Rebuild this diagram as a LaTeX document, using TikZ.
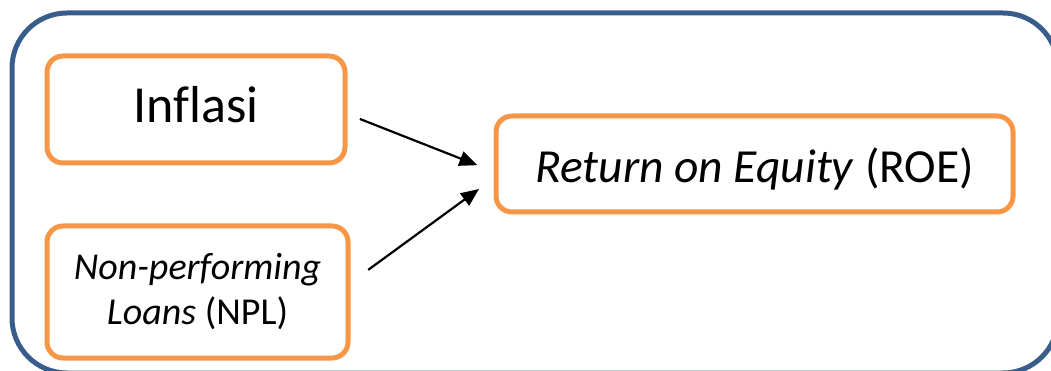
\documentclass[tikz,border=0pt]{standalone}
\usepackage{fontspec}
\setmainfont{Carlito}[Ligatures=NoCommon]
\usetikzlibrary{arrows.meta}
\definecolor{frameblue}{HTML}{385D8A}
\definecolor{boxorange}{HTML}{F79646}
\tikzset{
  varbox/.style={draw=boxorange, line width=5pt, rounded corners=16pt, outer sep=0pt, inner sep=0pt, fill=white},
  arr/.style={line width=2.2pt, -{Triangle[length=18pt,width=15pt]}}
}
\begin{document}
\begin{tikzpicture}[x=1pt,y=-1pt]
\useasboundingbox (0,0) rectangle (1051,371);
\begin{scope}
\clip (0,0) rectangle (1051,371);
\draw[frameblue, line width=5pt, rounded corners=55pt] (12,13) rectangle (1058,373);
\end{scope}
\node[varbox, minimum width=298pt, minimum height=107pt, text height=27pt, text depth=0pt,
      font=\fontsize{52}{62}\selectfont] (inf) at (196,109.5) {Inflasi};
\node[varbox, minimum width=301pt, minimum height=132pt, align=center,
      font=\fontsize{38}{45}\selectfont] (npl) at (197.5,292) {\textit{Non-performing}\\\textit{Loans} (NPL)};
\node[varbox, minimum width=517pt, minimum height=96pt, text height=38pt, text depth=0pt,
      font=\fontsize{47.5}{56}\selectfont] (roe) at (754.5,164) {\textit{Return on Equity} (ROE)};
\draw[arr, shorten <=16pt, shorten >=20pt] ([yshift=-3.6pt]inf.east) -- ([yshift=-8.5pt]roe.west);
\draw[arr, shorten <=25pt, shorten >=21pt] ([yshift=7.4pt]npl.east) -- ([yshift=-12.6pt]roe.west);
\end{tikzpicture}
\end{document}
